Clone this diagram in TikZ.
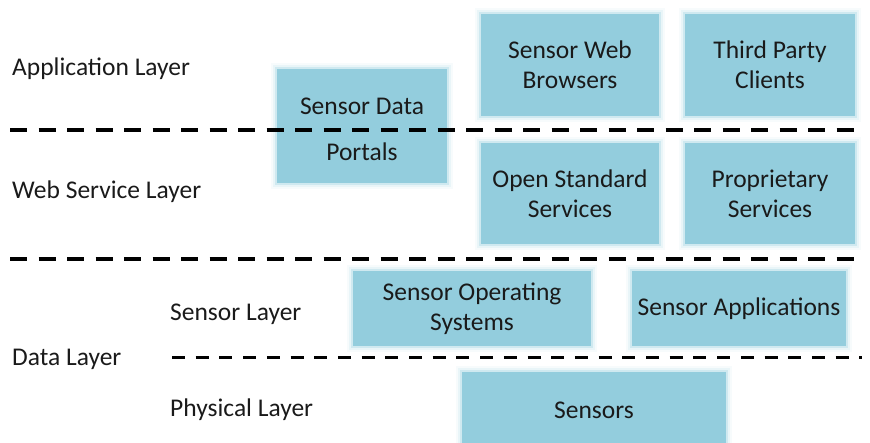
\documentclass[tikz,border=0pt]{standalone}
\usepackage{fontspec}
\setmainfont{Carlito}
\definecolor{boxblue}{HTML}{93CDDD}
\definecolor{txt}{HTML}{1A1A1A}
\begin{document}
\begin{tikzpicture}[x=1pt,y=-1pt,
  softbox/.style={fill=boxblue, draw=none, inner sep=0pt, align=center,
    font=\fontsize{25.5}{30}\selectfont, text=txt,
    preaction={draw=boxblue, line width=12pt, opacity=0.08},
    preaction={draw=boxblue, line width=8pt, opacity=0.14},
    preaction={draw=boxblue, line width=4pt, opacity=0.3}},
  layerlabel/.style={anchor=west, inner sep=0pt, font=\fontsize{25.5}{30}\selectfont, text=txt},
  bigdash/.style={line width=3.5pt, dash pattern=on 17pt off 11.5pt},
  smalldash/.style={line width=3pt, dash pattern=on 13pt off 10.7pt}]
\useasboundingbox (0,0) rectangle (870,443);
% boxes
\node[softbox, minimum width=170pt, minimum height=114pt] (sdp) at (362,126) {\mbox{}\\[-6.5pt]Sensor Data\\[16pt]Portals};
\node[softbox, minimum width=178pt, minimum height=102pt] (swb) at (570,65) {Sensor Web\\Browsers};
\node[softbox, minimum width=170pt, minimum height=102pt] (tpc) at (770,65) {Third Party\\Clients};
\node[softbox, minimum width=178pt, minimum height=101pt] (oss) at (570,193.5) {Open Standard\\Services};
\node[softbox, minimum width=170pt, minimum height=101pt] (ps) at (770,193.5) {Proprietary\\Services};
\node[softbox, minimum width=238pt, minimum height=75pt] (sos) at (472,308.5) {Sensor Operating\\Systems};
\node[softbox, minimum width=214pt, minimum height=75pt] (sa) at (739,308.5) {Sensor Applications};
\node[softbox, minimum width=264pt, minimum height=76pt] (sen) at (594,410) {Sensors};
% labels
\node[layerlabel] (al) at (12,69) {Application Layer};
\node[layerlabel] (wsl) at (12,192) {Web Service Layer};
\node[layerlabel] (sl) at (170,314) {Sensor Layer};
\node[layerlabel] (dl) at (12,359) {Data Layer};
\node[layerlabel] (pl) at (170,410) {Physical Layer};
% dashed lines
\coordinate (l1a) at (10,130); \coordinate (l1b) at (862,130);
\coordinate (l2a) at (10,259); \coordinate (l2b) at (862,259);
\coordinate (l3a) at (172,358); \coordinate (l3b) at (862,358);
\draw[bigdash] (l1a) -- (l1b);
\draw[bigdash] (l2a) -- (l2b);
\draw[smalldash] (l3a) -- (l3b);
\end{tikzpicture}
\end{document}
